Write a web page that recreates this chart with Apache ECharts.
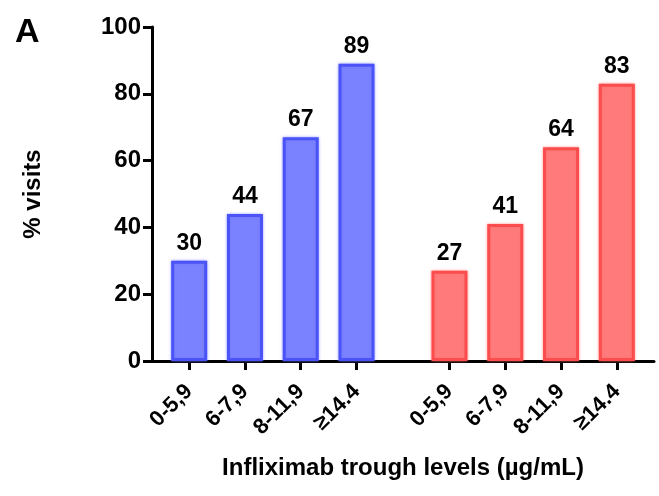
<!DOCTYPE html>
<html>
<head>
<meta charset="utf-8">
<script src="https://cdn.jsdelivr.net/npm/echarts@6/dist/echarts.min.js"></script>
<style>
  html, body { margin: 0; padding: 0; background: #fff; }
  #chart { width: 659px; height: 496px; }
</style>
</head>
<body>
<div id="chart"></div>
<script>
// levels shown under each group
var levelLabels = ['0-5,9', '6-7,9', '8-11,9', '≥14.4'];
var blueValues = [30, 44, 67, 89];
var redValues = [27, 41, 64, 83];
var yTicks = [0, 20, 40, 60, 80, 100];

var myChart = echarts.init(document.getElementById('chart'));

// category axis with fine slots so the two groups sit apart
var slots = [];
for (var i = 0; i < 28; i++) slots.push('');
var bluePos = [2, 5, 8, 11];
var redPos = [16, 19, 22, 25];
var blueData = slots.map(function () { return '-'; });
var redData = slots.map(function () { return '-'; });
bluePos.forEach(function (p, k) { slots[p] = levelLabels[k]; blueData[p] = blueValues[k]; });
redPos.forEach(function (p, k) { slots[p] = levelLabels[k]; redData[p] = redValues[k]; });

var font = 'Arial, "Liberation Sans", Helvetica, sans-serif';

var option = {
    textStyle: { fontFamily: font },
    title: {
        text: 'A',
        left: 10,
        top: 11,
        textStyle: { fontSize: 34, fontWeight: 'bold', color: '#000', fontFamily: font }
    },
    grid: { left: 152, right: 5, top: 27, bottom: 135 },
    xAxis: {
        type: 'category',
        data: slots,
        boundaryGap: false,
        name: 'Infliximab trough levels (µg/mL)',
        nameLocation: 'middle',
        nameGap: 95,
        nameTextStyle: { fontSize: 24, fontWeight: 'bold', color: '#000' },
        axisLine: { lineStyle: { color: '#000', width: 3 } },
        axisTick: {
            length: 9,
            lineStyle: { color: '#000', width: 3 },
            interval: function (idx, val) { return val !== ''; }
        },
        axisLabel: {
            rotate: 45,
            margin: 27,
            fontSize: 22,
            fontWeight: 'bold',
            color: '#000',
            interval: function (idx, val) { return val !== ''; }
        },
        splitLine: { show: false }
    },
    yAxis: {
        type: 'value',
        min: 0,
        max: 100,
        interval: 20,
        name: '% visits',
        nameLocation: 'middle',
        nameGap: 107,
        nameRotate: 90,
        nameTextStyle: { fontSize: 24, fontWeight: 'bold', color: '#000' },
        axisLine: { show: true, lineStyle: { color: '#000', width: 3 } },
        axisTick: { show: true, length: 9, lineStyle: { color: '#000', width: 3 } },
        axisLabel: {
            fontSize: 24,
            fontWeight: 'bold',
            color: '#000',
            margin: 11,
            formatter: function (v) { return yTicks.indexOf(v) >= 0 ? String(v) : ''; }
        },
        splitLine: { show: false }
    },
    series: [{
        type: 'bar',
        data: blueData,
        barWidth: 36,
        barGap: '-100%',
        itemStyle: {
            color: '#7b82ff',
            borderColor: '#4b53f7',
            borderWidth: 3,
            shadowColor: 'rgba(110,120,255,0.7)',
            shadowBlur: 3
        },
        label: {
            show: true,
            position: 'top',
            distance: 6,
            fontSize: 23,
            fontWeight: 'bold',
            color: '#000'
        }
    }, {
        type: 'bar',
        data: redData,
        barWidth: 36,
        barGap: '-100%',
        itemStyle: {
            color: '#ff7b7b',
            borderColor: '#fb4d4d',
            borderWidth: 3,
            shadowColor: 'rgba(255,110,110,0.7)',
            shadowBlur: 3
        },
        label: {
            show: true,
            position: 'top',
            distance: 6,
            fontSize: 23,
            fontWeight: 'bold',
            color: '#000'
        }
    }]
};

myChart.setOption(option);

window.onresize = function () {
    myChart.resize();
};
</script>
</body>
</html>
